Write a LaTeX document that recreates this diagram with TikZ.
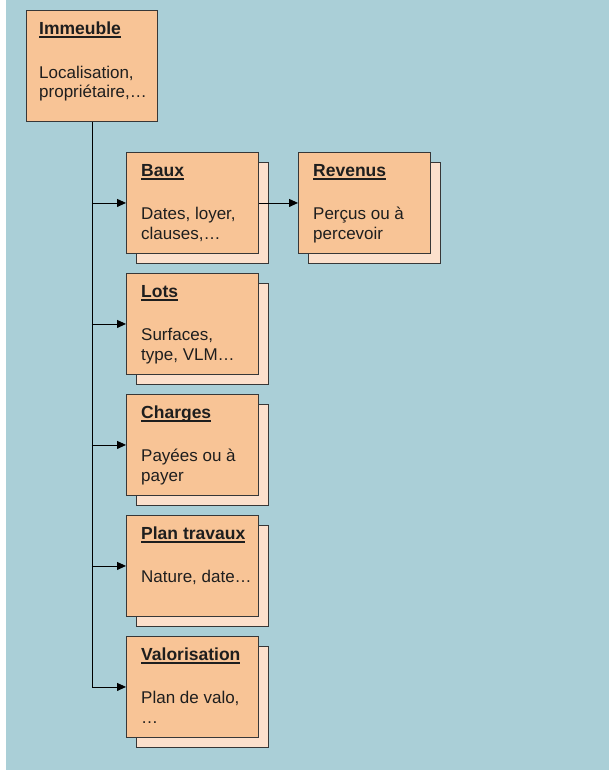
\documentclass[tikz,border=0pt]{standalone}
\usepackage{fontspec}
\setmainfont{Liberation Sans}
\usetikzlibrary{arrows.meta}
\definecolor{bg}{RGB}{170,207,215}
\definecolor{peach}{RGB}{248,196,150}
\definecolor{peachlight}{RGB}{252,224,204}
\definecolor{edge}{RGB}{55,55,55}
\definecolor{ink}{RGB}{30,30,30}
\newcommand\myul[1]{\setbox0\hbox{#1}\rlap{\vrule height -2.4pt depth 4.2pt width \wd0}\box0}
\begin{document}
\begin{tikzpicture}[x=1pt,y=-1pt,
  box/.style={draw=edge, line width=0.9pt, fill=peach, minimum width=132pt, minimum height=101pt, inner sep=0pt, anchor=north west},
  shadowbox/.style={box, fill=peachlight},
  ttl/.style={anchor=base west, inner sep=0pt, text=ink, font=\fontsize{17.5}{20}\selectfont\bfseries},
  txt/.style={anchor=base west, inner sep=0pt, text=ink, font=\fontsize{17}{20}\selectfont},
  conn/.style={draw=black, line width=0.9pt, -{Triangle[length=9pt,width=8pt]}}]
\useasboundingbox (0,0) rectangle (609,771);
\fill[white] (0,0) rectangle (609,771);
\fill[bg] (6,0) rectangle (609,770);

% Immeuble
\node[box, minimum width=131pt, minimum height=111pt] (imm) at (26,10) {};
\node[ttl] (immt) at (39,34) {\myul{Immeuble}};
\node[txt] (imma) at (39,78) {Localisation,};
\node[txt] (immb) at (39,97) {propriétaire,…};

% Baux
\node[shadowbox] (bauxs) at (136,162) {};
\node[box] (baux) at (126,152) {};
\node[ttl] (bauxt) at (141,176) {\myul{Baux}};
\node[txt] (bauxa) at (141,219) {Dates, loyer,};
\node[txt] (bauxb) at (141,239) {clauses,…};

% Revenus
\node[shadowbox] (revs) at (308,162) {};
\node[box] (rev) at (298,152) {};
\node[ttl] (revt) at (313,176) {\myul{Revenus}};
\node[txt] (reva) at (313,219) {Perçus ou à};
\node[txt] (revb) at (313,239) {percevoir};

% Lots
\node[shadowbox] (lotss) at (136,283) {};
\node[box] (lots) at (126,273) {};
\node[ttl] (lotst) at (141,297) {\myul{Lots}};
\node[txt] (lotsa) at (141,340) {Surfaces,};
\node[txt] (lotsb) at (141,360) {type, VLM…};

% Charges
\node[shadowbox] (chs) at (136,404) {};
\node[box] (ch) at (126,394) {};
\node[ttl] (cht) at (141,418) {\myul{Charges}};
\node[txt] (cha) at (141,461) {Payées ou à};
\node[txt] (chb) at (141,481) {payer};

% Plan travaux
\node[shadowbox] (pts) at (136,525) {};
\node[box] (pt) at (126,515) {};
\node[ttl] (ptt) at (141,539) {\myul{Plan travaux}};
\node[txt] (pta) at (141,582) {Nature, date…};

% Valorisation
\node[shadowbox] (vals) at (136,646) {};
\node[box] (val) at (126,636) {};
\node[ttl] (valt) at (141,660) {\myul{Valorisation}};
\node[txt] (vala) at (141,703) {Plan de valo,};
\node[txt] (valb) at (141,723) {…};

% connectors
\draw[conn] (imm.south) |- (val.west);
\draw[conn] (imm.south |- baux.west) -- (baux.west);
\draw[conn] (imm.south |- lots.west) -- (lots.west);
\draw[conn] (imm.south |- ch.west) -- (ch.west);
\draw[conn] (imm.south |- pt.west) -- (pt.west);
\draw[conn] (baux.east) -- (rev.west);
\end{tikzpicture}
\end{document}
